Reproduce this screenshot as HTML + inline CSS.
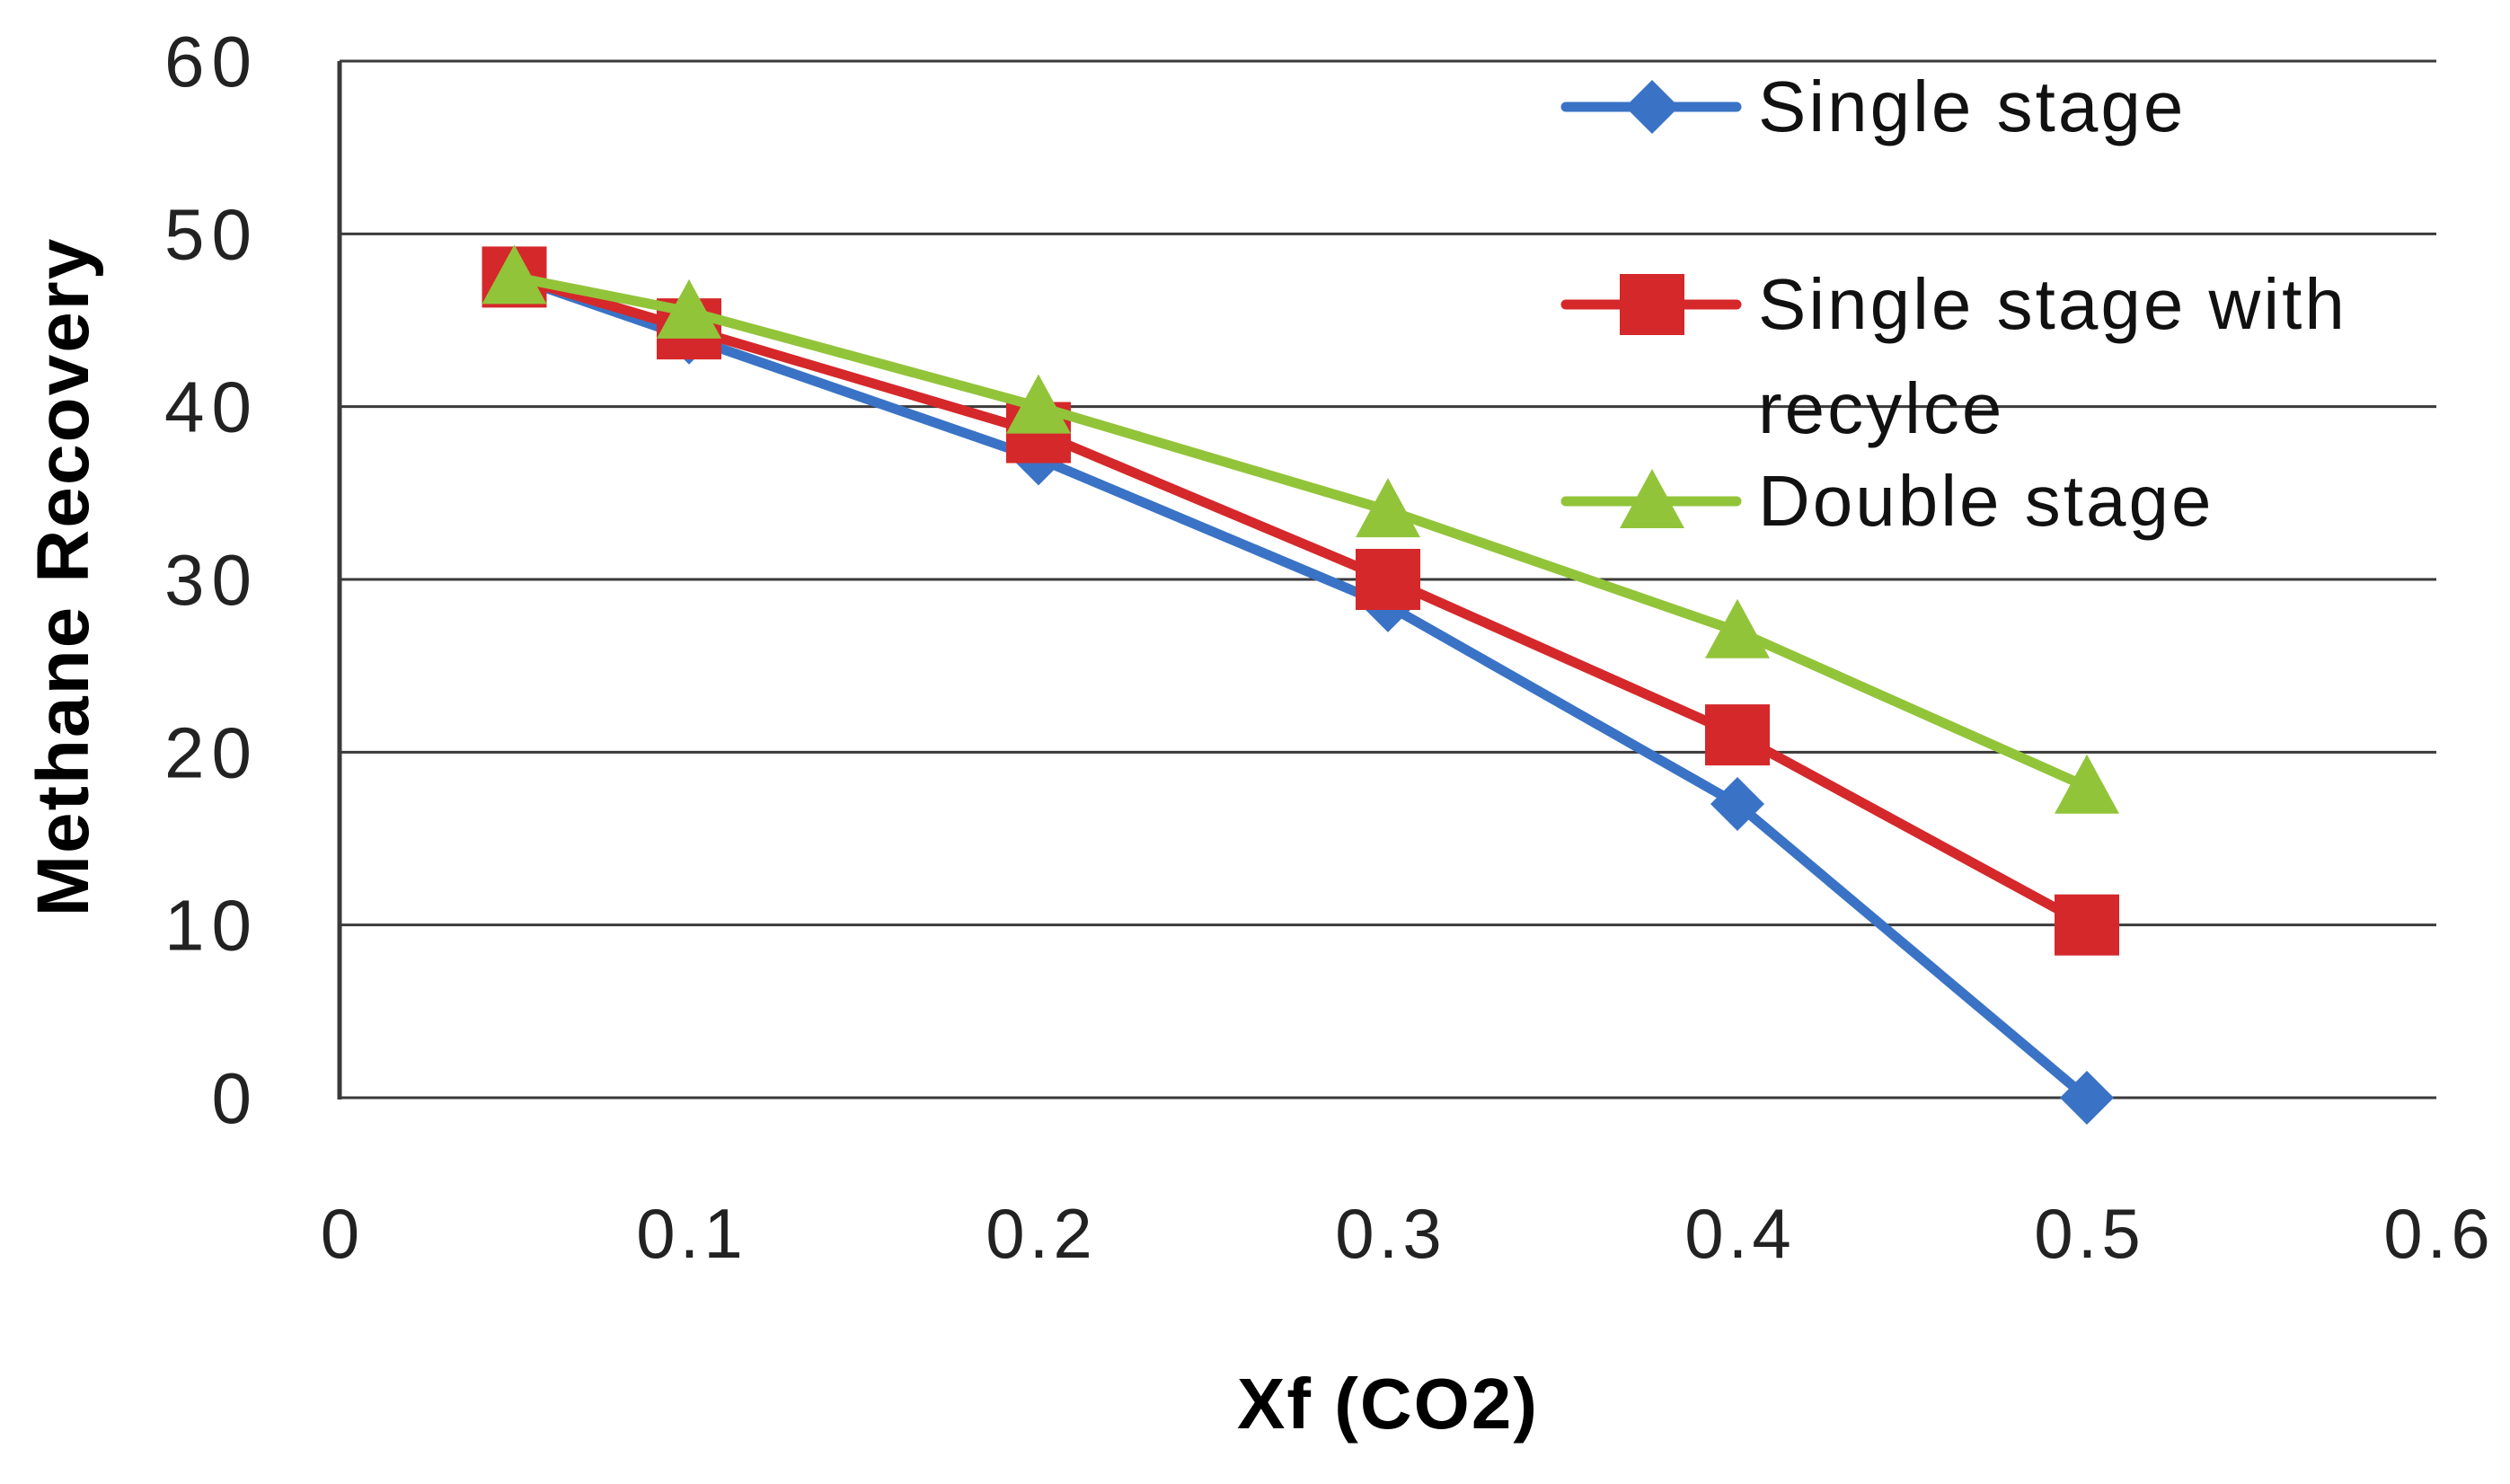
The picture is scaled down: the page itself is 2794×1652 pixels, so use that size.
<!DOCTYPE html>
<html><head><meta charset="utf-8"><style>
html,body{margin:0;padding:0;background:#fff;}
svg{display:block;font-family:"Liberation Sans",sans-serif;}
</style></head><body>
<svg id="chart" width="2794" height="1652" viewBox="0 0 2794 1652">
<g id="grid"></g><g id="axes"></g><g id="series"></g><g id="legend"></g>
<text x="1545" y="1590" font-size="80" font-weight="bold" text-anchor="middle" letter-spacing="2">Xf (CO2)</text>
<text transform="translate(98,642) rotate(-90)" font-size="82" font-weight="bold" text-anchor="middle" letter-spacing="2">Methane Recovery</text>
</svg>
<script>
const xValues=[0.05,0.1,0.2,0.3,0.4,0.5];
const singleStage=[47.5,44,37,28.5,17,0];
const recycleStage=[47.5,44.5,38.5,30,21,10];
const doubleStage=[47.5,45.5,40,34,27,18];
const yTicks=[0,10,20,30,40,50,60];
const xTicks=[0,0.1,0.2,0.3,0.4,0.5,0.6];
const NS="http://www.w3.org/2000/svg";
const X0=378,X1=2712,Y0=1222,Y1=68;
const sx=v=>X0+(v-0)/(0.6)*(X1-X0);
const sy=v=>Y0-(v/60)*(Y0-Y1);
function mk(tag,attrs,parent){const e=document.createElementNS(NS,tag);for(const k in attrs)e.setAttribute(k,attrs[k]);parent.appendChild(e);return e;}
const grid=document.getElementById('grid'),axes=document.getElementById('axes'),ser=document.getElementById('series'),leg=document.getElementById('legend');
yTicks.forEach(t=>{
  const l=mk('line',{x1:X0,x2:X1,y1:sy(t),y2:sy(t),stroke:'#3a3a3a','stroke-width':3},grid);
  
  
  const tx=mk('text',{x:288,y:sy(t)+28,'font-size':80,'text-anchor':'end','letter-spacing':8,fill:'#222'},axes);
  tx.textContent=t;
  
  
});
xTicks.forEach(t=>{
  const tx=mk('text',{x:sx(t)+3,y:1400,'font-size':78,'text-anchor':'middle','letter-spacing':5,fill:'#222'},axes);
  tx.textContent=t;
  
  
});
const ya=mk('line',{x1:X0,x2:X0,y1:Y1,y2:Y0+2,stroke:'#3a3a3a','stroke-width':5},axes);


function marker(type,x,y,color,parent){
  let m;
  if(type==='diamond')m=mk('polygon',{points:`${x},${y-30} ${x+30},${y} ${x},${y+30} ${x-30},${y}`,fill:color},parent);
  else if(type==='square')m=mk('rect',{x:x-36,y:y-34,width:72,height:68,fill:color},parent);
  else m=mk('polygon',{points:`${x},${y-36} ${x+36},${y+30} ${x-36},${y+30}`,fill:color},parent);
  return m;
}
const defs=[[singleStage,'#3a73c6','diamond'],[recycleStage,'#d5282b','square'],[doubleStage,'#92c43a','triangle']];
[0,1,2].forEach(i=>{
  const [vals,col,type]=defs[i];
  const pts=vals.map((v,j)=>sx(xValues[j])+','+sy(v)).join(' ');
  const pl=mk('polyline',{points:pts,fill:'none',stroke:col,'stroke-width':11,'stroke-linejoin':'round'},ser);
  
  
  vals.forEach((v,j)=>{
    const m=marker(type,sx(xValues[j]),sy(v),col,ser);
    
    
  });
});
const legY=[119,339,558];
defs.forEach(([vals,col,type],i)=>{
  const g=mk('g',{},leg);
  
  
  mk('line',{x1:1743,x2:1933,y1:legY[i],y2:legY[i],stroke:col,'stroke-width':11,'stroke-linecap':'round'},g);
  marker(type,1839,legY[i],col,g);
});
function legText(s,y){const t=mk('text',{x:1957,y:y,'font-size':80,'letter-spacing':3,fill:'#111'},leg);t.textContent=s;}
legText('Single stage',146);
legText('Single stage with',366);
legText('recylce',482);
legText('Double stage',585);
</script>
</body></html>
